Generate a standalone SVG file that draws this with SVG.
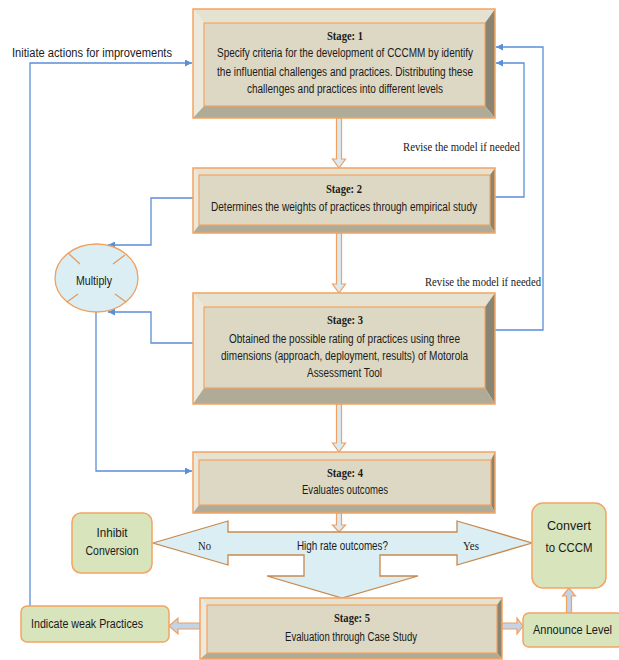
<svg xmlns="http://www.w3.org/2000/svg" width="619" height="660" viewBox="0 0 619 660">
<defs>
<style>
.face{fill:#ddd8c3;stroke:#f4a460;stroke-width:1.2}
.outer{fill:none;stroke:#f4a460;stroke-width:1.5}
.bt{fill:#e6e2d1}
.bl{fill:#ece8dc}
.br{fill:#8a8573}
.bb{fill:#b0ab97}
.conn{fill:none;stroke:#5b8fd6;stroke-width:1.3}
.hollow{fill:#dbe9f1;stroke:#f0a060;stroke-width:1.2}
.hollow2{fill:#c3d3e8;stroke:#f0a060;stroke-width:1.2}
.green{fill:#d7e4bc;stroke:#f4a460;stroke-width:1.5}
.t{font-family:"Liberation Sans",Arial,sans-serif;font-size:12px;fill:#1a1a1a}
.s{font-family:"Liberation Serif","Times New Roman",serif;font-size:12px;fill:#1a1a1a}
.st{font-family:"Liberation Serif","Times New Roman",serif;font-size:13px;font-weight:bold;fill:#1a1a1a}
</style>
<marker id="ah" viewBox="0 0 10 10" refX="10" refY="5" markerWidth="7" markerHeight="7" markerUnits="userSpaceOnUse" orient="auto">
<path d="M0,0 L10,5 L0,10 z" fill="#5b8fd6"/>
</marker>
</defs>
<rect width="619" height="660" fill="#ffffff"/>

<g id="connectors">
<path class="conn" d="M30,606 V63 H192" marker-end="url(#ah)"/>
<path class="conn" d="M495,197 H524 V63 H496" marker-end="url(#ah)"/>
<path class="conn" d="M495,330 H543 V47 H496" marker-end="url(#ah)"/>
<path class="conn" d="M193,198 H151 V245 H108" marker-end="url(#ah)"/>
<path class="conn" d="M193,343 H151 V312 H108" marker-end="url(#ah)"/>
<path class="conn" d="M96,312 V471 H192" marker-end="url(#ah)"/>
<polygon class="hollow" points="336.5,118 341.5,118 341.5,159 345.5,159 339,168 332.5,159 336.5,159"/>
<polygon class="hollow" points="336.5,233 341.5,233 341.5,284 345.5,284 339,293 332.5,284 336.5,284"/>
<polygon class="hollow" points="336.5,404 341.5,404 341.5,443 345.5,443 339,452 332.5,443 336.5,443"/>
<polygon class="hollow" points="336.5,513 341.5,513 341.5,525 345.5,525 339,532 332.5,525 336.5,525"/>
<polygon class="hollow2" points="200,623 178,623 178,618 169,626 178,634 178,629 200,629"/>
<polygon class="hollow2" points="502,623 517,623 517,618 523,626 517,634 517,629 502,629"/>
<polygon class="hollow2" points="566.5,613 566.5,596 562.5,596 569,588 575.5,596 571.5,596 571.5,613"/>
<text class="s" x="403" y="151" textLength="117" lengthAdjust="spacingAndGlyphs">Revise the model if needed</text>
<text class="s" x="425" y="286" textLength="116" lengthAdjust="spacingAndGlyphs">Revise the model if needed</text>
<text class="t" x="12" y="57" textLength="160" lengthAdjust="spacingAndGlyphs">Initiate actions for improvements</text>
</g>

<g id="stage1">
<polygon class="bt" points="193,9 495,9 485,23 204,23"/>
<polygon class="bl" points="193,9 204,23 204,106 193,118"/>
<polygon class="br" points="495,9 495,118 485,106 485,23"/>
<polygon class="bb" points="193,118 495,118 485,106 204,106"/>
<rect class="face" x="204" y="23" width="281" height="83"/>
<rect class="outer" x="193" y="9" width="302" height="109"/>
<text class="st" x="345" y="40" text-anchor="middle" textLength="36" lengthAdjust="spacingAndGlyphs">Stage: 1</text>
<text class="t" x="217" y="57" textLength="256" lengthAdjust="spacingAndGlyphs">Specify criteria for the development of CCCMM by identify</text>
<text class="t" x="217" y="76" textLength="256" lengthAdjust="spacingAndGlyphs">the influential challenges and practices. Distributing these</text>
<text class="t" x="247" y="93" textLength="196" lengthAdjust="spacingAndGlyphs">challenges and practices into different levels</text>
</g>

<g id="stage2">
<polygon class="bt" points="193,168 495,168 490,175 199,175"/>
<polygon class="bl" points="193,168 199,175 199,225 193,233"/>
<polygon class="br" points="495,168 495,233 490,225 490,175"/>
<polygon class="bb" points="193,233 495,233 490,225 199,225"/>
<rect class="face" x="199" y="175" width="291" height="50"/>
<rect class="outer" x="193" y="168" width="302" height="65"/>
<text class="st" x="344" y="193" text-anchor="middle" textLength="36" lengthAdjust="spacingAndGlyphs">Stage: 2</text>
<text class="t" x="211" y="211" textLength="266" lengthAdjust="spacingAndGlyphs">Determines the weights of practices through empirical study</text>
</g>

<g id="multiply">
<ellipse cx="96.5" cy="278" rx="41.5" ry="34" fill="#daeef3" stroke="#f0a060" stroke-width="1.3"/>
<path d="M68,253 L80,264 M125,255 L113,264 M67,302 L78,294 M126,302 L115,294" stroke="#e49a5e" stroke-width="1.2"/>
<text class="t" x="76" y="285" textLength="36" lengthAdjust="spacingAndGlyphs">Multiply</text>
</g>

<g id="stage3">
<polygon class="bt" points="193,293 495,293 485,307 204,307"/>
<polygon class="bl" points="193,293 204,307 204,388 193,404"/>
<polygon class="br" points="495,293 495,404 485,388 485,307"/>
<polygon class="bb" points="193,404 495,404 485,388 204,388"/>
<rect class="face" x="204" y="307" width="281" height="81"/>
<rect class="outer" x="193" y="293" width="302" height="111"/>
<text class="st" x="345" y="324" text-anchor="middle" textLength="36" lengthAdjust="spacingAndGlyphs">Stage: 3</text>
<text class="t" x="229" y="343" textLength="231" lengthAdjust="spacingAndGlyphs">Obtained the possible rating of practices using three</text>
<text class="t" x="221" y="360" textLength="247" lengthAdjust="spacingAndGlyphs">dimensions (approach, deployment, results) of Motorola</text>
<text class="t" x="307" y="377" textLength="75" lengthAdjust="spacingAndGlyphs">Assessment Tool</text>
</g>

<g id="stage4">
<polygon class="bt" points="193,452 495,452 491,460 199,460"/>
<polygon class="bl" points="193,452 199,460 199,505 193,513"/>
<polygon class="br" points="495,452 495,513 491,505 491,460"/>
<polygon class="bb" points="193,513 495,513 491,505 199,505"/>
<rect class="face" x="199" y="460" width="292" height="45"/>
<rect class="outer" x="193" y="452" width="302" height="61"/>
<text class="st" x="345" y="477" text-anchor="middle" textLength="36" lengthAdjust="spacingAndGlyphs">Stage: 4</text>
<text class="t" x="302" y="494" textLength="86" lengthAdjust="spacingAndGlyphs">Evaluates outcomes</text>
</g>

<g id="decision">
<polygon points="153,543 228,521 228,532 457,532 457,521 532,543 457,565 457,555 380,555 380,576 418,576 342,598 267,576 304,576 304,555 228,555 228,565" fill="#daeef3" stroke="#c8894f" stroke-width="1.3"/>
<text class="s" x="198" y="550" textLength="13" lengthAdjust="spacingAndGlyphs">No</text>
<text class="t" x="297" y="550" textLength="91" lengthAdjust="spacingAndGlyphs">High rate outcomes?</text>
<text class="s" x="463" y="550" textLength="16" lengthAdjust="spacingAndGlyphs">Yes</text>
</g>

<g id="inhibit">
<rect class="green" x="72" y="513" width="80" height="60" rx="9"/>
<text class="t" x="112" y="537" text-anchor="middle" textLength="31" lengthAdjust="spacingAndGlyphs">Inhibit</text>
<text class="t" x="112" y="555" text-anchor="middle" textLength="53" lengthAdjust="spacingAndGlyphs">Conversion</text>
</g>

<g id="convert">
<rect class="green" x="532" y="503" width="74" height="85" rx="11"/>
<text class="t" x="569" y="530" text-anchor="middle" font-size="14" textLength="44" lengthAdjust="spacingAndGlyphs">Convert</text>
<text class="t" x="569" y="552" text-anchor="middle" font-size="14" textLength="47" lengthAdjust="spacingAndGlyphs">to CCCM</text>
</g>

<g id="stage5">
<polygon class="bt" points="200,598 502,598 497,605 207,605"/>
<polygon class="bl" points="200,598 207,605 207,653 200,659"/>
<polygon class="br" points="502,598 502,659 497,653 497,605"/>
<polygon class="bb" points="200,659 502,659 497,653 207,653"/>
<rect class="face" x="207" y="605" width="290" height="48"/>
<rect class="outer" x="200" y="598" width="302" height="61"/>
<text class="st" x="352" y="622" text-anchor="middle" textLength="36" lengthAdjust="spacingAndGlyphs">Stage: 5</text>
<text class="t" x="285" y="641" textLength="132" lengthAdjust="spacingAndGlyphs">Evaluation through Case Study</text>
</g>

<g id="weak">
<rect class="green" x="21" y="606" width="148" height="36" rx="6"/>
<text class="t" x="31" y="628" textLength="112" lengthAdjust="spacingAndGlyphs">Indicate weak Practices</text>
</g>

<g id="announce">
<rect class="green" x="523" y="613" width="100" height="34" rx="6"/>
<text class="t" x="533" y="634" textLength="79" lengthAdjust="spacingAndGlyphs">Announce Level</text>
</g>
</svg>
